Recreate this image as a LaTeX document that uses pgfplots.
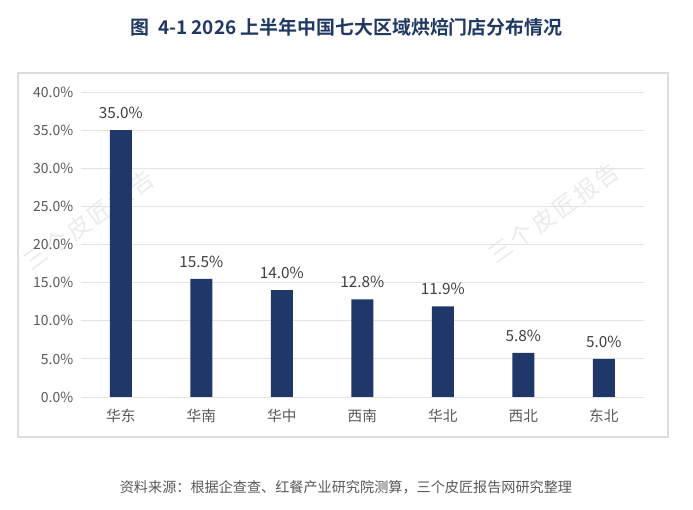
\documentclass[border=0pt]{standalone}
\usepackage{fontspec}
\setmainfont{Noto Sans CJK SC}[BoldFont={Noto Sans CJK SC Bold}]
\usepackage{pgfplots}
\pgfplotsset{compat=1.18}
\definecolor{barblue}{HTML}{1F3869}
\definecolor{titleblue}{HTML}{1F3864}
\definecolor{gridgray}{HTML}{E3E3E3}
\definecolor{boxgray}{HTML}{DDDDDD}
\definecolor{labgray}{HTML}{595959}
\definecolor{valgray}{HTML}{404040}
\definecolor{wmgray}{HTML}{EBEBEB}
\begin{document}
\begin{tikzpicture}
% page bounds
\fill[white] (-60.5pt,-84.75pt) rectangle (459.25pt,297.75pt);
% outer box
\draw[boxgray,line width=0.8pt] (-47pt,-30pt) rectangle (440.5pt,243pt);
% watermarks
\foreach \c [count=\i] in {三,个,皮,匠,报,告}{
  \node[wmgray,rotate=36,inner sep=0pt,font=\fontsize{17.5}{17.5}\selectfont] at ({6.2pt+(\i-3.5)*15.9pt},{132.75pt+(\i-3.5)*11.3pt}) {\c};
  \node[wmgray,rotate=36,inner sep=0pt,font=\fontsize{17.5}{17.5}\selectfont] at ({355pt+(\i-3.5)*15.9pt},{138pt+(\i-3.5)*11.3pt}) {\c};
}
\begin{axis}[
  at={(0,0)}, anchor=south west,
  scale only axis,
  width=422.5pt, height=228.75pt,
  xmin=-0.5, xmax=6.5,
  ymin=0, ymax=40,
  axis line style={draw=none},
  ytick={0,5,...,40},
  xtick={0,...,6},
  xticklabels={华东,华南,华中,西南,华北,西北,东北},
  major tick length=0pt,
  ymajorgrids,
  grid style={gridgray,line width=0.7pt},
  /pgf/number format/assume math mode=true,
  yticklabel={\pgfmathprintnumber[fixed,fixed zerofill,precision=1]{\tick}\%},
  yticklabel style={labgray,font=\fontsize{10.5}{12}\selectfont,xshift=-2pt},
  xticklabel style={labgray,font=\fontsize{11}{12}\selectfont,yshift=-5.5pt},
  ybar, bar width=16.5pt,
  nodes near coords={\pgfmathprintnumber[fixed,fixed zerofill,precision=1]{\pgfplotspointmeta}\%},
  nodes near coords style={valgray,font=\fontsize{11.5}{12}\selectfont,yshift=5pt},
]
\addplot[fill=barblue,draw=none] coordinates {(0,35.0) (1,15.5) (2,14.0) (3,12.8) (4,11.9) (5,5.8) (6,5.0)};
\end{axis}
\node[titleblue,font=\bfseries\fontsize{14.2}{15}\selectfont] at (199.4pt,277.5pt) {图\ \ 4-1 2026 上半年中国七大区域烘焙门店分布情况};
\node[labgray,font=\fontsize{10.6}{12}\selectfont] at (199pt,-67.5pt) {资料来源：根据企查查、红餐产业研究院测算，三个皮匠报告网研究整理};
\end{tikzpicture}
\end{document}
